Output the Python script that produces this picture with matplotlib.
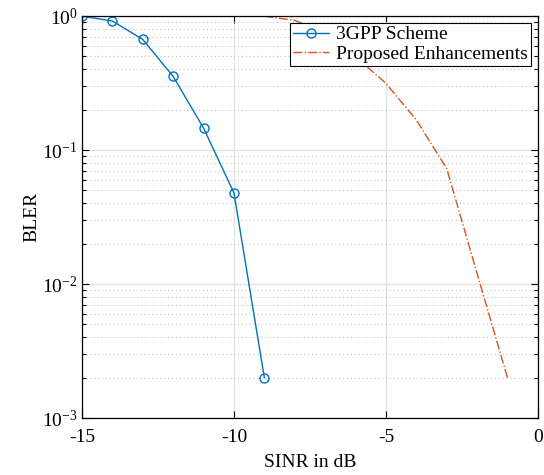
import matplotlib
matplotlib.use("Agg")
import matplotlib.pyplot as plt
from matplotlib.ticker import LogLocator, NullFormatter, MultipleLocator

plt.rcParams["font.family"] = ["Liberation Serif", "DejaVu Serif"]
plt.rcParams["mathtext.fontset"] = "stix"
plt.rcParams["axes.unicode_minus"] = False

# BLER curves vs SINR
sinr_3gpp = [-15, -14, -13, -12, -11, -10, -9]
bler_3gpp = [1.0, 0.92, 0.67, 0.355, 0.146, 0.048, 0.002]

sinr_prop = [-9, -8, -7, -6, -5, -4, -3, -2, -1]
bler_prop = [1.0, 0.93, 0.75, 0.5, 0.315, 0.168, 0.073, 0.012, 0.002]

fig = plt.figure(figsize=(5.44, 4.75), dpi=100)
ax = fig.add_axes([0.1507, 0.12, 0.838, 0.846])

ax.plot(sinr_3gpp, bler_3gpp, color="#0072BD", linewidth=1.0, marker="o",
        markersize=6.5, markerfacecolor="none", markeredgewidth=1.0,
        label="3GPP Scheme")
ax.plot(sinr_prop, bler_prop, color="#D95319", linewidth=1.0, linestyle="-.",
        label="Proposed Enhancements")

ax.set_yscale("log")
ax.set_xlim(-15, 0)
ax.set_ylim(1e-3, 1)
ax.xaxis.set_major_locator(MultipleLocator(5))
ax.yaxis.set_major_locator(LogLocator(base=10, numticks=10))
ax.yaxis.set_minor_locator(LogLocator(base=10, subs=range(2, 10), numticks=10))
ax.yaxis.set_minor_formatter(NullFormatter())

ax.grid(True, which="major", color="#e3e3e3", linewidth=1.0)
ax.grid(True, which="minor", axis="y", color="#c4c4c4", linestyle=(0, (1, 2.5)),
        linewidth=0.8)
ax.set_axisbelow(True)

ax.tick_params(which="both", direction="in", top=True, right=True,
               labelsize=14, width=0.8)
ax.tick_params(which="major", length=5)
ax.tick_params(which="minor", length=3)
ax.tick_params(axis="x", pad=8)
ax.tick_params(axis="y", pad=3)
for s in ax.spines.values():
    s.set_linewidth(0.9)

ax.set_xlabel("SINR in dB", fontsize=14, labelpad=6)
ax.set_ylabel("BLER", fontsize=14, labelpad=1)

leg = ax.legend(loc="upper right", fontsize=14, fancybox=False,
                edgecolor="black", framealpha=1, borderpad=0.15,
                handlelength=1.9, handletextpad=0.35, labelspacing=0.1,
                borderaxespad=0.35)
leg.get_frame().set_linewidth(0.8)

fig.savefig("out.png", dpi=100)
